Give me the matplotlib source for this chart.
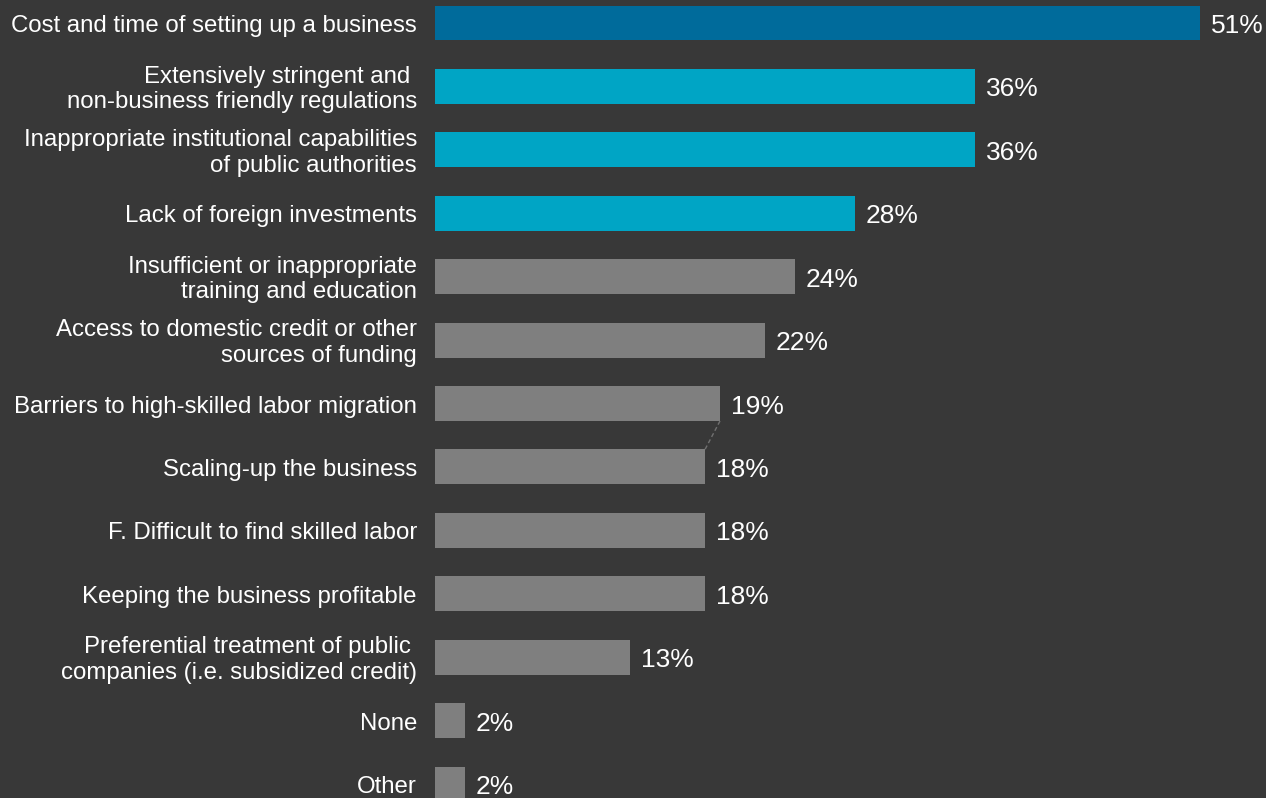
import matplotlib
matplotlib.use("Agg")
import matplotlib.pyplot as plt

categories = [
    "Cost and time of setting up a business",
    "Extensively stringent and \nnon-business friendly regulations",
    "Inappropriate institutional capabilities\nof public authorities",
    "Lack of foreign investments",
    "Insufficient or inappropriate\ntraining and education",
    "Access to domestic credit or other\nsources of funding",
    "Barriers to high-skilled labor migration",
    "Scaling-up the business",
    "F. Difficult to find skilled labor",
    "Keeping the business profitable",
    "Preferential treatment of public \ncompanies (i.e. subsidized credit)",
    "None",
    "Other",
]
values = [51, 36, 36, 28, 24, 22, 19, 18, 18, 18, 13, 2, 2]
labels = ["51%", "36%", "36%", "28%", "24%", "22%", "19%", "18%", "18%", "18%", "13%", "2%", "2%"]

BG = "#383838"
DARK_BLUE = "#006b9b"
CYAN = "#00a5c5"
GRAY = "#7f7f7f"
colors = [DARK_BLUE] + [CYAN] * 3 + [GRAY] * 9

W, H = 1266, 798
fig = plt.figure(figsize=(W / 100, H / 100), dpi=100, facecolor=BG)
left_px = 435
px_per_pct = 15.0
ax = fig.add_axes([left_px / W, 0, (W - left_px) / W, 1])
ax.set_facecolor(BG)

row = 63.42
top_center = 23
ax.set_xlim(0, (W - left_px) / px_per_pct)
ax.set_ylim((H - top_center) / row, -top_center / row)

bar_h = 0.55
ys = list(range(len(values)))
ax.barh(ys, values, height=bar_h, color=colors, edgecolor="none")

font = "Liberation Sans"
dy = 3 / row
for y, v, lab, cat in zip(ys, values, labels, categories):
    ax.text(v + 11 / px_per_pct, y + dy, lab, va="center", ha="left",
            color="white", fontsize=19, family=font)
    ax.text(-18 / px_per_pct, y + dy, cat, va="center", ha="right",
            color="white", fontsize=17.3, family=font, linespacing=1.2,
            clip_on=False)

# dashed connector between the 19% and 18% bars
ax.plot([values[6], values[7]], [6 + bar_h / 2, 7 - bar_h / 2],
        color="#707070", lw=1, ls=(0, (3, 2)))

ax.axis("off")
fig.savefig("out.png", dpi=100, facecolor=BG)
